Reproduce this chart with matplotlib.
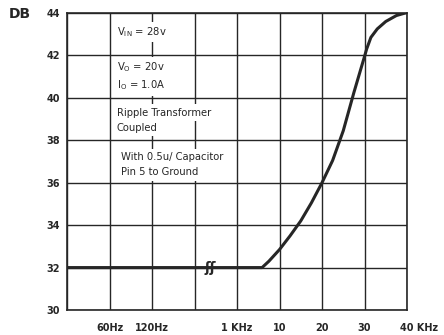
import matplotlib
matplotlib.use('Agg')
import matplotlib.pyplot as plt
import matplotlib.transforms as mtransforms

plt.rcParams['font.family'] = ['DejaVu Sans']
plt.rcParams['mathtext.fontset'] = 'dejavusans'

# ripple rejection vs frequency (x is grid position, axis is not to scale)
x_pos = [0, 4.59, 4.75, 5.0, 5.25, 5.5, 5.75, 6.0, 6.25, 6.5, 6.75, 7.0, 7.05, 7.15, 7.3, 7.5, 7.75, 7.96]
db = [32.0, 32.0, 32.3, 32.85, 33.5, 34.2, 35.05, 36.0, 37.05, 38.45, 40.25, 41.95, 42.3, 42.85, 43.25, 43.6, 43.88, 44.0]

tick_pos = [1, 2, 4, 5, 6, 7, 8]
tick_labels = ['60Hz', '120Hz', '1 KHz', '10', '20', '30', '40 KHz']
y_ticks = [30, 32, 34, 36, 38, 40, 42, 44]

notes = [
    (1.17, 43.1, r'V$_{\rm IN}$ = 28v'),
    (1.17, 41.45, r'V$_{\rm O}$ = 20v'),
    (1.17, 40.6, r'I$_{\rm O}$ = 1.0A'),
    (1.17, 39.3, 'Ripple Transformer'),
    (1.17, 38.6, 'Coupled'),
    (1.28, 37.2, 'With 0.5u/ Capacitor'),
    (1.28, 36.5, 'Pin 5 to Ground'),
]

ink = '#262626'

fig = plt.figure(figsize=(4.44, 3.35), dpi=100)
ax = fig.add_axes([0.1509, 0.0746, 0.7658, 0.8866])

# grid drawn as plain lines so the notes can sit on top of it
for gx in range(0, 9):
    ax.axvline(gx, color=ink, lw=1.0, zorder=1)
for gy in y_ticks:
    ax.axhline(gy, color=ink, lw=1.0, zorder=1)

ax.plot(x_pos, db, color=ink, lw=2.2, solid_capstyle='round', solid_joinstyle='round', zorder=3)

# break in the frequency scale
ax.text(3.38, 32.0, 'ʃʃ', fontsize=10, fontweight='bold',
        color=ink, ha='center', va='center', zorder=4)

for nx, ny, s in notes:
    ax.text(nx, ny, s, fontsize=7.2, color=ink, ha='left', va='center', zorder=4,
            bbox=dict(facecolor='white', edgecolor='none', pad=2.5))

ax.set_xlim(0, 8)
ax.set_ylim(30, 44)
ax.set_xticks(tick_pos)
ax.set_xticklabels(tick_labels)
ax.set_yticks(y_ticks)
ax.tick_params(length=0, labelsize=7, colors=ink)
ax.tick_params(axis='x', pad=9)
ax.tick_params(axis='y', pad=5)
for lab in ax.get_xticklabels() + ax.get_yticklabels():
    lab.set_fontweight('bold')
last = ax.get_xticklabels()[-1]
last.set_ha('left')
last.set_transform(last.get_transform() + mtransforms.ScaledTranslation(-5 / 72, 0, fig.dpi_scale_trans))

for sp in ax.spines.values():
    sp.set_color(ink)
    sp.set_linewidth(1.2)

fig.text(0.045, 0.957, 'DB', fontsize=10, fontweight='bold', color=ink, ha='center', va='center')

fig.savefig('out.png', dpi=100)
